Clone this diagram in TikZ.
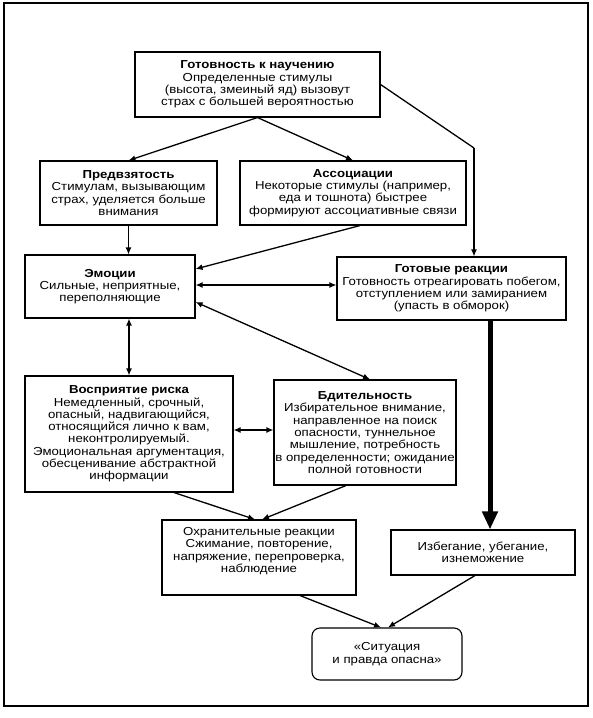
\documentclass[tikz,border=0pt]{standalone}
\usepackage{fontspec}
\setmainfont[FakeStretch=1.14]{Liberation Sans}
\usetikzlibrary{arrows.meta,calc}
\begin{document}
\begin{tikzpicture}[x=1pt,y=-1pt,
  box/.style={draw,line width=1.1pt,align=center,inner sep=0pt,font=\fontsize{11.6pt}{12.3pt}\selectfont},
  conn/.style={line width=1.3pt,-{Latex[length=7pt,width=6pt]}},
  bconn/.style={line width=1.3pt,{Latex[length=7pt,width=6pt]}-{Latex[length=7pt,width=6pt]}},
  thick arrow/.style={line width=5pt,-{Triangle[length=18pt,width=15pt]}}]
\useasboundingbox (0,0) rectangle (593,718);
\draw[line width=1.1pt] (4,3) rectangle (588,706);

\node[box,minimum width=245pt,minimum height=65pt] (top) at (257.5,84.5)
  {\textbf{Готовность к научению}\\Определенные стимулы\\(высота, змеиный яд) вызовут\\страх с большей вероятностью};
\node[box,minimum width=177pt,minimum height=64pt] (pred) at (128.5,193)
  {\textbf{Предвзятость}\\Стимулам, вызывающим\\страх, уделяется больше\\внимания};
\node[box,minimum width=226pt,minimum height=64pt] (ass) at (353,193)
  {\textbf{Ассоциации}\\Некоторые стимулы (например,\\еда и тошнота) быстрее\\формируют ассоциативные связи};
\node[box,minimum width=170pt,minimum height=63pt] (emo) at (110,286.5)
  {\textbf{Эмоции}\\Сильные, неприятные,\\переполняющие};
\node[box,minimum width=229pt,minimum height=63pt] (gr) at (451.5,288.5)
  {\textbf{Готовые реакции}\\Готовность отреагировать побегом,\\отступлением или замиранием\\(упасть в обморок)};
\node[box,minimum width=208pt,minimum height=116pt] (vr) at (129,434)
  {\textbf{Восприятие риска}\\Немедленный, срочный,\\опасный, надвигающийся,\\относящийся лично к вам,\\неконтролируемый.\\Эмоциональная аргументация,\\обесценивание абстрактной\\информации};
\node[box,minimum width=182pt,minimum height=105pt] (bd) at (365,432.5)
  {\textbf{Бдительность}\\Избирательное внимание,\\направленное на поиск\\опасности, туннельное\\мышление, потребность\\в определенности; ожидание\\полной готовности};
\node[box,minimum width=194pt,minimum height=75pt] (ox) at (259,557.5)
  {Охранительные реакции\\Сжимание, повторение,\\напряжение, перепроверка,\\наблюдение\\[3pt]};
\node[box,minimum width=184pt,minimum height=45pt] (iz) at (483,552.5)
  {Избегание, убегание,\\изнеможение};
\node[box,rounded corners=8pt,minimum width=150pt,minimum height=52pt] (sit) at (387,654)
  {«Ситуация\\и правда опасна»};

\coordinate (corner) at (474,148);
\draw[conn] (top.south) -- (pred.north);
\draw[conn] (top.south) -- (ass.north);
\draw[line width=1.3pt] (top.east) -- (corner);
\draw[conn] (corner) -- (corner |- gr.north);
\draw[conn] (pred.south) -- (pred.south |- emo.north);
\draw[conn] ([xshift=7pt]ass.south) -- ([yshift=17.5pt]emo.east);
\draw[bconn] ([yshift=1.5pt]emo.east) -- ([yshift=1.5pt]emo.east -| gr.west);
\draw[bconn] ([yshift=-15.5pt]emo.east) -- ([xshift=5pt]bd.north);
\draw[bconn] (vr.north |- emo.south) -- (vr.north);
\draw[bconn] ([yshift=4pt]vr.east) -- ([yshift=4pt]vr.east -| bd.west);
\draw[conn] ([xshift=45pt]vr.south) -- ([xshift=-4pt]ox.north);
\draw[conn] ([xshift=-19pt]bd.south) -- ([xshift=3pt]ox.north);
\draw[thick arrow] ([xshift=38.5pt]gr.south) -- ([xshift=38.5pt]gr.south |- iz.north);
\draw[conn] ([xshift=41pt]ox.south) -- ([xshift=-6pt]sit.north);
\draw[conn] ([xshift=-8pt]iz.south) -- ([xshift=1pt]sit.north);
\end{tikzpicture}
\end{document}
